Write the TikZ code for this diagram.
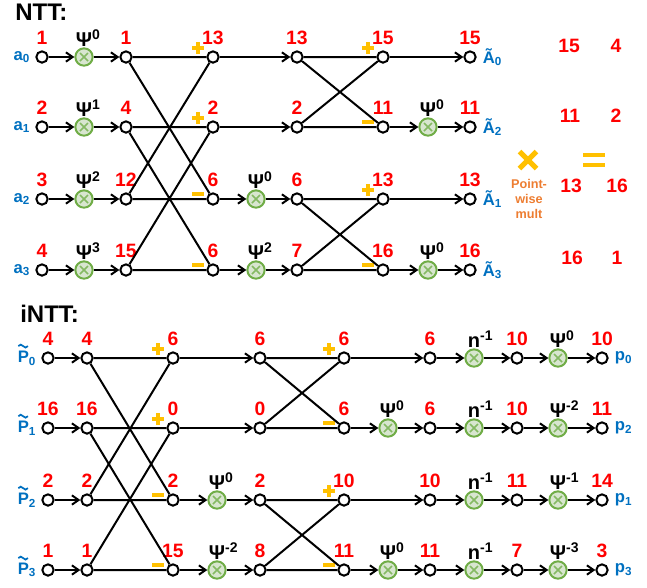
\documentclass[tikz,border=0pt]{standalone}
\usepackage{fontspec}
\setmainfont{Liberation Sans}
\usepackage{xcolor}
\usepackage{tikz}
\usetikzlibrary{arrows.meta}

\definecolor{valred}{RGB}{255,0,0}
\definecolor{idxblue}{RGB}{0,112,192}
\definecolor{signyel}{RGB}{255,192,0}
\definecolor{pwora}{RGB}{237,125,49}
\definecolor{mulgreen}{RGB}{112,173,71}
\definecolor{mulfill}{RGB}{216,230,207}

\newcommand\twid[1]{Ψ\rlap{\textsuperscript{#1}}}
\newcommand\ninv{n\rlap{\textsuperscript{-1}}}
\newcommand\plusbar{\rlap{\rule[3pt]{9pt}{3pt}}\hspace*{3pt}\rule{3pt}{9pt}\hspace*{3pt}}
\newcommand\minusbar{\rule{9pt}{3pt}}

\begin{document}
\begin{tikzpicture}[
  x=0.75pt, y=-0.75pt,
  dot/.style={circle, draw, line width=1.5pt, fill=white, minimum size=8.5pt, inner sep=0pt},
  mul/.style={circle, draw=mulgreen, line width=1.5pt, fill=mulfill, minimum size=13pt, inner sep=0pt,
    path picture={\draw[mulgreen!85!white, line width=1.2pt]
      ([shift={(-3pt,-3pt)}]path picture bounding box.center) -- ([shift={(3pt,3pt)}]path picture bounding box.center)
      ([shift={(-3pt,3pt)}]path picture bounding box.center) -- ([shift={(3pt,-3pt)}]path picture bounding box.center);}},
  arr/.style={-{Straight Barb[length=5pt, width=7pt]}, line width=1.5pt},
  wire/.style={line width=1.5pt},
  numtxt/.style={font=\bfseries\fontsize{14.5}{16}\selectfont, text=valred, inner sep=0pt, yshift=4.2pt},
  num/.style={label={[numtxt]above:#1}},
  twtxt/.style={font=\bfseries\fontsize{15}{17}\selectfont, inner sep=0pt, yshift=0.6pt},
  tw/.style={label={[twtxt]above:#1}},
  idx/.style={font=\bfseries\fontsize{12.5}{14}\selectfont, text=idxblue, inner sep=0pt},
  inl/.style={label={[idx, xshift=-3.75pt]left:#1}},
  outl/.style={label={[idx, xshift=4.5pt]right:#1}},
  tld/.style={idxblue, line width=1.3pt},
  sgn/.style={text=signyel, inner sep=0pt},
  addsign/.style={label={[sgn, xshift=-11.25pt, yshift=6.75pt]center:\plusbar}},
  subsign/.style={label={[sgn, xshift=-11.25pt, yshift=4pt]center:\minusbar}},
  title/.style={font=\bfseries\fontsize{18}{20}\selectfont, inner sep=0pt, anchor=base west},
  res/.style={font=\bfseries\fontsize{14.5}{16}\selectfont, text=valred, inner sep=0pt},
  pw/.style={font=\bfseries\fontsize{9.5}{11.5}\selectfont, text=pwora, align=center, inner sep=0pt},
  sym/.style={signyel, line width=3.75pt},
]
\useasboundingbox (0,0) rectangle (647,587);

% ====== NTT (top) ======
\node[title] (ntt) at (15,20) {NTT:};

% row 0
\node[dot, num=1, inl={a\textsubscript{0}}] (i0) at (42,57) {};
\node[mul, tw={\twid{0}}] (p0) at (84,57) {};
\node[dot, num=1] (b0) at (126,57) {};
\node[dot, num=13, addsign] (c0) at (213,57) {};
\node[dot, num=13] (d0) at (297,57) {};
\node[dot, num=15, addsign] (e0) at (383,57) {};
\node[dot, num=15, outl={Ã\textsubscript{0}}] (o0) at (470,57) {};

% row 1
\node[dot, num=2, inl={a\textsubscript{1}}] (i1) at (42,127) {};
\node[mul, tw={\twid{1}}] (p1) at (84,127) {};
\node[dot, num=4] (b1) at (126,127) {};
\node[dot, num=2, addsign] (c1) at (213,127) {};
\node[dot, num=2] (d1) at (297,127) {};
\node[dot, num=11, subsign] (e1) at (383,127) {};
\node[mul, tw={\twid{0}}] (r1) at (428,127) {};
\node[dot, num=11, outl={Ã\textsubscript{2}}] (o1) at (470,127) {};

% row 2
\node[dot, num=3, inl={a\textsubscript{2}}] (i2) at (42,199) {};
\node[mul, tw={\twid{2}}] (p2) at (84,199) {};
\node[dot, num=12] (b2) at (126,199) {};
\node[dot, num=6, subsign] (c2) at (213,199) {};
\node[mul, tw={\twid{0}}] (q2) at (256,199) {};
\node[dot, num=6] (d2) at (297,199) {};
\node[dot, num=13, addsign] (e2) at (383,199) {};
\node[dot, num=13, outl={Ã\textsubscript{1}}] (o2) at (470,199) {};

% row 3
\node[dot, num=4, inl={a\textsubscript{3}}] (i3) at (42,270) {};
\node[mul, tw={\twid{3}}] (p3) at (84,270) {};
\node[dot, num=15] (b3) at (126,270) {};
\node[dot, num=6, subsign] (c3) at (213,270) {};
\node[mul, tw={\twid{2}}] (q3) at (256,270) {};
\node[dot, num=7] (d3) at (297,270) {};
\node[dot, num=16, subsign] (e3) at (383,270) {};
\node[mul, tw={\twid{0}}] (r3) at (428,270) {};
\node[dot, num=16, outl={Ã\textsubscript{3}}] (o3) at (470,270) {};

% twiddle inputs
\draw[arr] (i0) -- (p0); \draw[arr] (p0) -- (b0);
\draw[arr] (i1) -- (p1); \draw[arr] (p1) -- (b1);
\draw[arr] (i2) -- (p2); \draw[arr] (p2) -- (b2);
\draw[arr] (i3) -- (p3); \draw[arr] (p3) -- (b3);

% stage 1 butterflies
\draw[wire] (b0) -- (c0) (b0) -- (c2) (b2) -- (c0) (b2) -- (c2);
\draw[wire] (b1) -- (c1) (b1) -- (c3) (b3) -- (c1) (b3) -- (c3);

\draw[arr] (c0) -- (d0);
\draw[arr] (c1) -- (d1);
\draw[arr] (c2) -- (q2); \draw[arr] (q2) -- (d2);
\draw[arr] (c3) -- (q3); \draw[arr] (q3) -- (d3);

% stage 2 butterflies
\draw[wire] (d0) -- (e0) (d0) -- (e1) (d1) -- (e0) (d1) -- (e1);
\draw[wire] (d2) -- (e2) (d2) -- (e3) (d3) -- (e2) (d3) -- (e3);

\draw[arr] (e0) -- (o0);
\draw[arr] (e1) -- (r1); \draw[arr] (r1) -- (o1);
\draw[arr] (e2) -- (o2);
\draw[arr] (e3) -- (r3); \draw[arr] (r3) -- (o3);

% ====== point-wise product (right) ======
\draw[sym] (519.5,151.5) -- (536.5,168.5) (519.5,168.5) -- (536.5,151.5);
\node[pw] (pwm) at (529,199) {Point-\\wise\\mult};
\draw[sym, line width=3pt] (583,155) -- (605,155) (583,165) -- (605,165);

\node[res] (m0a) at (569,46) {15};  \node[res] (m0b) at (616,46) {4};
\node[res] (m1a) at (570,116) {11}; \node[res] (m1b) at (616,116) {2};
\node[res] (m2a) at (571,186) {13}; \node[res] (m2b) at (617,186) {16};
\node[res] (m3a) at (572,258) {16}; \node[res] (m3b) at (617,258) {1};

% ====== iNTT (bottom) ======
\node[title] (intt) at (20,322) {iNTT:};

% row 0
\node[dot, num=4] (vi0) at (48,358) {};
\node[dot, num=4] (vb0) at (87,358) {};
\node[dot, num=6, addsign] (vc0) at (173,358) {};
\node[dot, num=6] (vd0) at (260,358) {};
\node[dot, num=6, addsign] (ve0) at (344,358) {};
\node[dot, num=6] (vf0) at (430,358) {};
\node[mul, tw={\ninv}] (vn0) at (474,358) {};
\node[dot, num=10] (vg0) at (517,358) {};
\node[mul, tw={\twid{0}}] (vs0) at (558,358) {};
\node[dot, num=10, outl={p\textsubscript{0}}] (vo0) at (602,358) {};

% row 1
\node[dot, num=16] (vi1) at (48,428) {};
\node[dot, num=16] (vb1) at (87,428) {};
\node[dot, num=0, addsign] (vc1) at (173,428) {};
\node[dot, num=0] (vd1) at (260,428) {};
\node[dot, num=6, subsign] (ve1) at (344,428) {};
\node[mul, tw={\twid{0}}] (vr1) at (388,428) {};
\node[dot, num=6] (vf1) at (430,428) {};
\node[mul, tw={\ninv}] (vn1) at (474,428) {};
\node[dot, num=10] (vg1) at (517,428) {};
\node[mul, tw={\twid{-2}}] (vs1) at (558,428) {};
\node[dot, num=11, outl={p\textsubscript{2}}] (vo1) at (602,428) {};

% row 2
\node[dot, num=2] (vi2) at (48,500) {};
\node[dot, num=2] (vb2) at (87,500) {};
\node[dot, num=2, subsign] (vc2) at (173,500) {};
\node[mul, tw={\twid{0}}] (vq2) at (217,500) {};
\node[dot, num=2] (vd2) at (260,500) {};
\node[dot, num=10, addsign] (ve2) at (344,500) {};
\node[dot, num=10] (vf2) at (430,500) {};
\node[mul, tw={\ninv}] (vn2) at (474,500) {};
\node[dot, num=11] (vg2) at (517,500) {};
\node[mul, tw={\twid{-1}}] (vs2) at (558,500) {};
\node[dot, num=14, outl={p\textsubscript{1}}] (vo2) at (602,500) {};

% row 3
\node[dot, num=1] (vi3) at (48,570) {};
\node[dot, num=1] (vb3) at (87,570) {};
\node[dot, num=15, subsign] (vc3) at (173,570) {};
\node[mul, tw={\twid{-2}}] (vq3) at (217,570) {};
\node[dot, num=8] (vd3) at (260,570) {};
\node[dot, num=11, subsign] (ve3) at (344,570) {};
\node[mul, tw={\twid{0}}] (vr3) at (388,570) {};
\node[dot, num=11] (vf3) at (430,570) {};
\node[mul, tw={\ninv}] (vn3) at (474,570) {};
\node[dot, num=7] (vg3) at (517,570) {};
\node[mul, tw={\twid{-3}}] (vs3) at (558,570) {};
\node[dot, num=3, outl={p\textsubscript{3}}] (vo3) at (602,570) {};

% input labels with tilde
\node[idx, anchor=east] (pl0) at ([xshift=-3.75pt]vi0.west) {P\textsubscript{0}};
\node[idx, anchor=east] (pl1) at ([xshift=-3.75pt]vi1.west) {P\textsubscript{1}};
\node[idx, anchor=east] (pl2) at ([xshift=-3.75pt]vi2.west) {P\textsubscript{2}};
\node[idx, anchor=east] (pl3) at ([xshift=-3.75pt]vi3.west) {P\textsubscript{3}};
\draw[tld] ([shift={(0.6pt,3.4pt)}]pl0.north west) sin ++(1.8pt,1.1pt) cos ++(1.8pt,-1.1pt) sin ++(1.8pt,-1.1pt) cos ++(1.8pt,1.1pt);
\draw[tld] ([shift={(0.6pt,3.4pt)}]pl1.north west) sin ++(1.8pt,1.1pt) cos ++(1.8pt,-1.1pt) sin ++(1.8pt,-1.1pt) cos ++(1.8pt,1.1pt);
\draw[tld] ([shift={(0.6pt,3.4pt)}]pl2.north west) sin ++(1.8pt,1.1pt) cos ++(1.8pt,-1.1pt) sin ++(1.8pt,-1.1pt) cos ++(1.8pt,1.1pt);
\draw[tld] ([shift={(0.6pt,3.4pt)}]pl3.north west) sin ++(1.8pt,1.1pt) cos ++(1.8pt,-1.1pt) sin ++(1.8pt,-1.1pt) cos ++(1.8pt,1.1pt);

\draw[arr] (vi0) -- (vb0);
\draw[arr] (vi1) -- (vb1);
\draw[arr] (vi2) -- (vb2);
\draw[arr] (vi3) -- (vb3);

% stage 1 butterflies
\draw[wire] (vb0) -- (vc0) (vb0) -- (vc2) (vb2) -- (vc0) (vb2) -- (vc2);
\draw[wire] (vb1) -- (vc1) (vb1) -- (vc3) (vb3) -- (vc1) (vb3) -- (vc3);

\draw[arr] (vc0) -- (vd0);
\draw[arr] (vc1) -- (vd1);
\draw[arr] (vc2) -- (vq2); \draw[arr] (vq2) -- (vd2);
\draw[arr] (vc3) -- (vq3); \draw[arr] (vq3) -- (vd3);

% stage 2 butterflies
\draw[wire] (vd0) -- (ve0) (vd0) -- (ve1) (vd1) -- (ve0) (vd1) -- (ve1);
\draw[wire] (vd2) -- (ve2) (vd2) -- (ve3) (vd3) -- (ve2) (vd3) -- (ve3);

\draw[arr] (ve0) -- (vf0);
\draw[arr] (ve1) -- (vr1); \draw[arr] (vr1) -- (vf1);
\draw[arr] (ve2) -- (vf2);
\draw[arr] (ve3) -- (vr3); \draw[arr] (vr3) -- (vf3);

% scaling by n^-1 and psi^-i
\draw[arr] (vf0) -- (vn0); \draw[arr] (vn0) -- (vg0); \draw[arr] (vg0) -- (vs0); \draw[arr] (vs0) -- (vo0);
\draw[arr] (vf1) -- (vn1); \draw[arr] (vn1) -- (vg1); \draw[arr] (vg1) -- (vs1); \draw[arr] (vs1) -- (vo1);
\draw[arr] (vf2) -- (vn2); \draw[arr] (vn2) -- (vg2); \draw[arr] (vg2) -- (vs2); \draw[arr] (vs2) -- (vo2);
\draw[arr] (vf3) -- (vn3); \draw[arr] (vn3) -- (vg3); \draw[arr] (vg3) -- (vs3); \draw[arr] (vs3) -- (vo3);

\end{tikzpicture}
\end{document}
